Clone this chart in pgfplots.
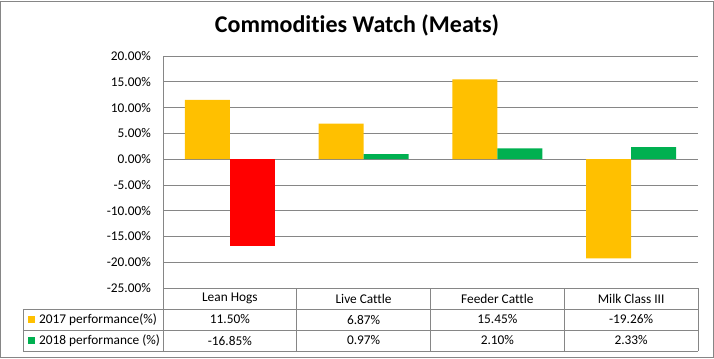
\documentclass[border=0pt]{standalone}
\usepackage{pgfplots}
\pgfplotsset{compat=1.18}
\usepackage{fontspec}
\setmainfont{Carlito}[Ligatures=NoCommon]
\definecolor{yel}{HTML}{FFC000}
\definecolor{grn}{HTML}{00B050}
\definecolor{rd}{HTML}{FF0000}
\definecolor{gridgray}{HTML}{868686}
\newcommand{\lblfont}{\fontsize{13.33bp}{16bp}\selectfont}
\begin{document}
\begin{tikzpicture}
\begin{axis}[
  at={(0,0)}, anchor=south west,
  scale only axis, width=535bp, height=232bp,
  xmin=-0.5, xmax=3.5, ymin=-25, ymax=20,
  ytick={-25,-20,...,20},
  xtick=\empty,
  axis x line=none,
  axis y line*=left,
  y axis line style={draw=gridgray, line width=0.75bp},
  ymajorgrids, grid style={gridgray, line width=0.75bp},
  major tick length=0pt,
  /pgf/number format/assume math mode=true,
  yticklabel={\pgfmathprintnumber[fixed,fixed zerofill,precision=2]{\tick}\%},
  yticklabel style={font=\lblfont, inner sep=0pt, xshift=-12bp},
  clip=false,
]
\addplot[ybar, bar width=45bp, bar shift=-22.5bp, fill=yel, draw=none] coordinates {(0,11.50) (1,6.87) (2,15.45) (3,-19.26)};
\addplot[ybar, bar width=45bp, bar shift=22.5bp, fill=grn, draw=none] coordinates {(1,0.97) (2,2.10) (3,2.33)};
\addplot[ybar, bar width=45bp, bar shift=22.5bp, fill=rd, draw=none] coordinates {(0,-16.85)};
\end{axis}
\begin{scope}[x=1bp,y=1bp]
  % table lines
  \draw[gridgray, line width=0.75bp] (-140,-21) -- (535,-21);
  \draw[gridgray, line width=0.75bp] (-140,-42) -- (535,-42);
  \draw[gridgray, line width=0.75bp] (-140,-63) -- (535,-63);
  \draw[gridgray, line width=0.75bp] (-140,-21) -- (-140,-63);
  \foreach \xx in {0,133.75,267.5,401.25,535}
    \draw[gridgray, line width=0.75bp] (\xx,0) -- (\xx,-63);
  % header
  \foreach \xx/\lab in {66.875/Lean Hogs,200.625/Live Cattle,334.375/Feeder Cattle,468.125/Milk Class III}
    \node[font=\lblfont, inner sep=0pt] at (\xx,-10.5) {\lab};
  \foreach \xx/\lab in {66.875/11.50\%,200.625/6.87\%,334.375/15.45\%,468.125/-19.26\%}
    \node[font=\lblfont, inner sep=0pt] at (\xx,-31.5) {\lab};
  \foreach \xx/\lab in {66.875/-16.85\%,200.625/0.97\%,334.375/2.10\%,468.125/2.33\%}
    \node[font=\lblfont, inner sep=0pt] at (\xx,-52.5) {\lab};
  % legend keys
  \fill[yel] (-135,-35) rectangle (-128,-28);
  \fill[grn] (-135,-56) rectangle (-128,-49);
  \node[font=\lblfont, inner sep=0pt, anchor=west] at (-124,-31.5) {2017 performance(\%)};
  \node[font=\lblfont, inner sep=0pt, anchor=west] at (-124,-52.5) {2018 performance (\%)};
  % title
  \node[font=\fontsize{24bp}{28bp}\selectfont\bfseries, inner sep=0pt] at (194,263) {Commodities Watch (Meats)};
  % frame
  \draw[gridgray, line width=1bp] (-162,-69) rectangle (550,287);
  \pgfresetboundingbox
  \useasboundingbox (-163,-70) rectangle (551,288);
\end{scope}
\end{tikzpicture}
\end{document}
